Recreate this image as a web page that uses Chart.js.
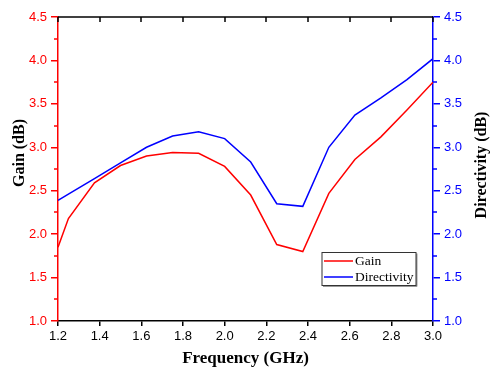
<!DOCTYPE html>
<html>
<head>
<meta charset="utf-8">
<script src="https://cdn.jsdelivr.net/npm/chart.js@4/dist/chart.umd.min.js"></script>
<style>
html,body{margin:0;padding:0;background:#fff;}
#c{display:block;}
</style>
</head>
<body>
<canvas id="c" width="490" height="369"></canvas>
<script>
// ---- data ----
const freq = [1.2, 1.25, 1.375, 1.5, 1.625, 1.75, 1.875, 2.0, 2.125, 2.25, 2.375, 2.5, 2.625, 2.75, 2.875, 3.0];
const gain = [1.85, 2.18, 2.59, 2.79, 2.90, 2.94, 2.93, 2.78, 2.45, 1.88, 1.80, 2.47, 2.86, 3.12, 3.43, 3.75];
const directivity = [2.39, 2.46, 2.64, 2.82, 3.00, 3.13, 3.18, 3.10, 2.83, 2.35, 2.32, 3.00, 3.37, 3.57, 3.78, 4.02];
const xTicks = [1.2, 1.4, 1.6, 1.8, 2.0, 2.2, 2.4, 2.6, 2.8, 3.0];
const yTicks = [1.0, 1.5, 2.0, 2.5, 3.0, 3.5, 4.0, 4.5];
const seriesNames = ['Gain', 'Directivity'];
const xTitle = 'Frequency (GHz)';
const yTitleLeft = 'Gain (dB)';
const yTitleRight = 'Directivity (dB)';

const RED = '#ff0000', BLUE = '#0000ff';
const serif = '"Liberation Serif", "Times New Roman", serif';
const sans = '"Liberation Sans", Arial, sans-serif';

const extras = {
  id: 'extras',
  afterDraw(chart) {
    const ctx = chart.ctx;
    const a = chart.chartArea;
    const xs = chart.scales.x, yl = chart.scales.y, yr = chart.scales.y1;
    ctx.save();
    // top frame line with inward ticks
    ctx.strokeStyle = '#000';
    ctx.lineWidth = 1.5;
    ctx.beginPath();
    ctx.moveTo(a.left, a.top);
    ctx.lineTo(a.right, a.top);
    ctx.stroke();
    ctx.beginPath();
    xTicks.forEach(v => {
      const px = Math.round(xs.getPixelForValue(v));
      ctx.moveTo(px, a.top);
      ctx.lineTo(px, a.top + 5);
    });
    ctx.stroke();
    // minor ticks on y axes
    for (let i = 0; i < yTicks.length - 1; i++) {
      const mv = (yTicks[i] + yTicks[i + 1]) / 2;
      const pyl = Math.round(yl.getPixelForValue(mv));
      ctx.strokeStyle = RED;
      ctx.beginPath();
      ctx.moveTo(a.left, pyl); ctx.lineTo(a.left - 4, pyl);
      ctx.stroke();
      const pyr = Math.round(yr.getPixelForValue(mv));
      ctx.strokeStyle = BLUE;
      ctx.beginPath();
      ctx.moveTo(a.right, pyr); ctx.lineTo(a.right + 4, pyr);
      ctx.stroke();
    }
    // axis titles (rotated, reading bottom to top)
    ctx.fillStyle = '#000';
    ctx.font = 'bold 16px ' + serif;
    ctx.textAlign = 'center';
    ctx.textBaseline = 'middle';
    ctx.save();
    ctx.translate(20, 153);
    ctx.rotate(-Math.PI / 2);
    ctx.fillText(yTitleLeft, 0, 0);
    ctx.restore();
    ctx.save();
    ctx.translate(482, 165);
    ctx.rotate(-Math.PI / 2);
    ctx.fillText(yTitleRight, 0, 0);
    ctx.restore();
    // legend box
    const bx = 322, by = 252.5, bw = 94, bh = 33;
    ctx.fillStyle = '#999';
    ctx.fillRect(bx + 1, by + bh, bw, 1.5);
    ctx.fillRect(bx + bw, by + 1, 1.5, bh);
    ctx.fillStyle = '#fff';
    ctx.fillRect(bx, by, bw, bh);
    ctx.strokeStyle = '#333';
    ctx.lineWidth = 1;
    ctx.strokeRect(bx, by, bw, bh);
    const colors = [RED, BLUE];
    const ly = [261, 277];
    ctx.lineWidth = 1.5;
    ctx.font = '13.5px ' + serif;
    ctx.textAlign = 'left';
    ctx.textBaseline = 'middle';
    seriesNames.forEach((n, i) => {
      ctx.strokeStyle = colors[i];
      ctx.beginPath();
      ctx.moveTo(bx + 2, ly[i]); ctx.lineTo(bx + 31, ly[i]);
      ctx.stroke();
      ctx.fillStyle = '#000';
      ctx.fillText(n, bx + 33, ly[i]);
    });
    ctx.restore();
  }
};

new Chart(document.getElementById('c'), {
  type: 'line',
  data: {
    datasets: [
      { label: seriesNames[0], data: freq.map((f, i) => ({ x: f, y: gain[i] })), borderColor: RED, backgroundColor: RED, borderWidth: 1.5, pointRadius: 0, tension: 0, yAxisID: 'y' },
      { label: seriesNames[1], data: freq.map((f, i) => ({ x: f, y: directivity[i] })), borderColor: BLUE, backgroundColor: BLUE, borderWidth: 1.5, pointRadius: 0, tension: 0, yAxisID: 'y1' }
    ]
  },
  options: {
    responsive: false,
    animation: false,
    layout: { padding: { top: 17, left: 0, right: 0, bottom: 0 } },
    plugins: { legend: { display: false }, tooltip: { enabled: false } },
    scales: {
      x: {
        type: 'linear', position: 'bottom', min: 1.2, max: 3.0,
        afterBuildTicks: s => { s.ticks = xTicks.map(v => ({ value: v })); },
        ticks: { callback: v => Number(v).toFixed(1), color: '#000', font: { family: sans, size: 13 }, padding: 3, maxRotation: 0, autoSkip: false },
        grid: { drawOnChartArea: false, tickLength: 5, color: '#000', lineWidth: 1.5 },
        border: { color: '#000', width: 1.5 },
        title: { display: true, text: xTitle, color: '#000', font: { family: serif, size: 17, weight: 'bold' }, padding: 0 },
        afterFit: s => { s.height = 48; }
      },
      y: {
        type: 'linear', position: 'left', min: 1.0, max: 4.5,
        afterBuildTicks: s => { s.ticks = yTicks.map(v => ({ value: v })); },
        ticks: { callback: v => Number(v).toFixed(1), color: RED, font: { family: sans, size: 13 }, padding: 4 },
        grid: { drawOnChartArea: false, tickLength: 7, color: RED, lineWidth: 1.5 },
        border: { color: RED, width: 1.5 },
        afterFit: s => { s.width = 58; }
      },
      y1: {
        type: 'linear', position: 'right', min: 1.0, max: 4.5,
        afterBuildTicks: s => { s.ticks = yTicks.map(v => ({ value: v })); },
        ticks: { callback: v => Number(v).toFixed(1), color: BLUE, font: { family: sans, size: 13 }, padding: 4 },
        grid: { drawOnChartArea: false, tickLength: 7, color: BLUE, lineWidth: 1.5 },
        border: { color: BLUE, width: 1.5 },
        afterFit: s => { s.width = 57; }
      }
    }
  },
  plugins: [extras]
});
</script>
</body>
</html>
